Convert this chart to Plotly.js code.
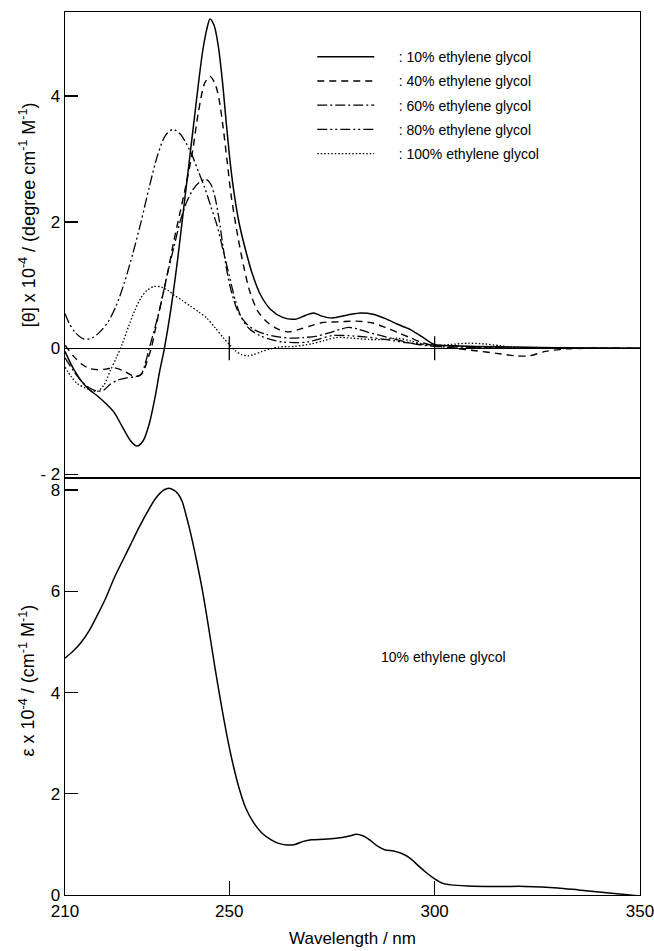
<!DOCTYPE html>
<html>
<head>
<meta charset="utf-8">
<script src="https://cdn.plot.ly/plotly-3.0.1.min.js"></script>
<style>html,body{margin:0;padding:0;background:#fff;}#chart{width:654px;height:951px;}</style>
</head>
<body>
<div id="chart"></div>
<script>
// ---- CD spectra, [theta] x 10^-4 ----
var wl10 = [210,212,214,216,218,220,222,224,226,227.5,229,230.5,232,233,234.2,235.5,236.5,237.5,238.5,239.5,240.5,241.5,242.5,243.5,244.5,245.3,246.3,247.3,248.3,249.3,250.3,251.3,252.5,254,255.5,257.5,260,263,266,268.5,270.5,272.5,275,279,282,285,288,291,294,297,300,305,310,320,330,350];
var cd10 = [-0.05,-0.32,-0.52,-0.66,-0.76,-0.88,-1.02,-1.25,-1.47,-1.55,-1.47,-1.2,-0.75,-0.38,0,0.5,0.95,1.45,2.0,2.55,3.1,3.65,4.2,4.7,5.05,5.22,5.12,4.8,4.25,3.55,2.9,2.4,1.95,1.55,1.2,0.86,0.62,0.49,0.46,0.52,0.56,0.51,0.48,0.53,0.56,0.54,0.47,0.38,0.3,0.18,0.06,0.04,0.03,0.02,0.01,0];

var wl40 = [210,212,214,216,218,220,222,224,226,227.5,229,230,231,232,233.5,235,236.5,238,239.5,241,242.5,244,245.3,246.5,247.5,248.5,249.5,250.5,252,253.5,255,257,259.5,262,264.5,267,270,273,277,281,285,288,291,294,297,300,305,310,315,320,323,327,332,340,350];
var cd40 = [0.05,-0.12,-0.25,-0.32,-0.34,-0.33,-0.31,-0.35,-0.42,-0.45,-0.38,-0.2,0,0.3,0.75,1.2,1.7,2.15,2.6,3.1,3.75,4.2,4.31,4.2,3.95,3.5,2.95,2.4,1.8,1.3,0.9,0.58,0.4,0.3,0.26,0.3,0.36,0.41,0.42,0.43,0.4,0.33,0.25,0.17,0.09,0.04,0,-0.04,-0.08,-0.12,-0.12,-0.05,-0.01,0,0];

var wl60 = [210,212,214,216,218,219.5,221,223,225,227,228.5,229.5,230.5,232,233.5,235,236.5,238,239.5,241,242.5,244.3,245.5,246.5,247.5,248.5,249.5,250.5,252,254,256.5,259,262,265,268,271,274,277,279,281,284,287,290,293,296,300,305,310,320,350];
var cd60 = [-0.15,-0.35,-0.52,-0.63,-0.68,-0.66,-0.57,-0.5,-0.47,-0.45,-0.42,-0.25,0,0.35,0.75,1.2,1.6,2.0,2.3,2.5,2.62,2.68,2.6,2.4,2.05,1.6,1.2,0.9,0.6,0.4,0.28,0.22,0.18,0.16,0.17,0.19,0.24,0.3,0.33,0.31,0.25,0.2,0.15,0.1,0.06,0.03,0.02,0.01,0,0];

var wl80 = [210,211,212.5,214.5,216.5,218.5,220.5,222.5,224.5,226.5,228.5,230.5,232.5,234.5,236.3,238,239.5,241,242.5,244,245.5,247,248.5,250,251.5,253,255,257.5,260,263,266,269,272,275,279,283,287,290,293,296,300,310,320,350];
var cd80 = [0.55,0.4,0.25,0.15,0.16,0.26,0.42,0.68,1.05,1.5,2.0,2.55,3.05,3.38,3.47,3.4,3.25,3.05,2.8,2.55,2.25,1.95,1.55,1.15,0.75,0.48,0.3,0.2,0.14,0.1,0.09,0.1,0.15,0.2,0.2,0.18,0.15,0.12,0.09,0.07,0.05,0.02,0,0];

var wl100 = [210,211.5,213,215,216.5,218,219.5,221,222.5,224,225.5,227,228.5,230,231.7,233.5,235,236.6,238.5,240.5,242.5,244.5,246.5,248.5,250,251.5,253,254.5,256,258,260,262,266,270,273,276,280,284,288,291,294,297,300,304,308,312,316,320,330,350];
var cd100 = [-0.3,-0.45,-0.56,-0.63,-0.67,-0.68,-0.58,-0.36,-0.15,0.08,0.35,0.6,0.8,0.92,0.98,0.97,0.92,0.84,0.76,0.67,0.58,0.48,0.33,0.17,0.06,-0.04,-0.1,-0.12,-0.1,-0.05,-0.01,0.02,0.03,0.07,0.12,0.17,0.16,0.14,0.14,0.16,0.12,0.07,0.04,0.06,0.08,0.07,0.04,0.01,0,0];

// ---- absorption spectrum, epsilon x 10^-4 (10% ethylene glycol) ----
var absWl = [210,212,214,216,218,220,222,224,226,228,230,232,234,235.3,236.5,237.5,238.5,239.5,240.5,242,243.5,245,246.5,248,249.5,251,252.5,254,256,258,260,262,264,266,268,270,273,276,279,281,282.5,284,286,288,290,292,294,296,298,300,302,304,308,315,322,326,330,335,340,345,350];
var absEps = [4.68,4.82,5.0,5.24,5.55,5.88,6.27,6.6,6.93,7.26,7.56,7.83,8.0,8.04,8.0,7.93,7.78,7.5,7.18,6.62,6.0,5.27,4.5,3.78,3.12,2.55,2.08,1.72,1.42,1.22,1.1,1.02,0.99,1.0,1.06,1.09,1.1,1.12,1.16,1.2,1.17,1.1,0.97,0.89,0.87,0.82,0.73,0.58,0.44,0.32,0.23,0.2,0.18,0.17,0.17,0.16,0.14,0.1,0.06,0.02,-0.02];

var seriesNames = [': 10% ethylene glycol', ': 40% ethylene glycol', ': 60% ethylene glycol', ': 80% ethylene glycol', ': 100% ethylene glycol'];
var xTickVals = [210, 250, 300, 350];
var cdTickVals = [-2, 0, 2, 4];
var cdTickText = ['- 2', '0', '2', '4'];
var absTickVals = [0, 2, 4, 6, 8];

var FONT = 'Liberation Sans, Arial, Helvetica, sans-serif';
var PAD = '\u00a0\u00a0\u00a0\u00a0\u00a0';
var dashes = ['solid', '7px,5px', '10px,3px,2px,3px', '10px,3px,2px,3px,2px,3px', '1.5px,2px'];
var widths = [1.5, 1.4, 1.3, 1.3, 1.3];
var cdX = [wl10, wl40, wl60, wl80, wl100];
var cdY = [cd10, cd40, cd60, cd80, cd100];

var traces = [];
for (var i = 0; i < 5; i++) {
  traces.push({
    x: cdX[i], y: cdY[i], xaxis: 'x2', yaxis: 'y2', type: 'scatter', mode: 'lines',
    name: PAD + seriesNames[i], legendgroup: 'g' + i,
    line: {color: '#000', width: widths[i], dash: dashes[i], shape: 'spline', smoothing: 0.8}
  });
}
traces.push({
  x: absWl, y: absEps, xaxis: 'x', yaxis: 'y', type: 'scatter', mode: 'lines',
  showlegend: false, line: {color: '#000', width: 1.5, shape: 'spline', smoothing: 0.8}
});

// cross ticks on the zero line of the CD panel at interior x ticks
var shapes = xTickVals.slice(1, -1).map(function (v) {
  return {type: 'line', xref: 'x2', yref: 'y2', x0: v, x1: v, ysizemode: 'pixel', yanchor: 0, y0: -12, y1: 12,
          line: {color: '#000', width: 1.3}};
});

var axisCommon = {showgrid: false, showline: true, linecolor: '#000', linewidth: 1.3, mirror: true,
                  ticks: 'inside', tickcolor: '#000', tickwidth: 1.3, ticklen: 13,
                  tickfont: {family: FONT, size: 17, color: '#000'}};

var layout = {
  width: 654, height: 951,
  margin: {l: 65, r: 14, t: 12, b: 56},
  paper_bgcolor: '#fff', plot_bgcolor: '#fff',
  showlegend: true,
  legend: {x: 0.43, y: 0.967, xanchor: 'left', yanchor: 'top', bgcolor: 'rgba(0,0,0,0)',
           font: {family: FONT, size: 14, color: '#000'}, tracegroupgap: 3, itemwidth: 57},
  xaxis: Object.assign({}, axisCommon, {domain: [0, 1], anchor: 'y', range: [209.999, 350.001], tickmode: 'array', tickvals: xTickVals,
         ticklen: 14, zeroline: false, ticklabeloverflow: 'allow',
         title: {text: 'Wavelength / nm', font: {family: FONT, size: 17, color: '#000'}, standoff: 12}}),
  yaxis: Object.assign({}, axisCommon, {domain: [0, 0.4711], anchor: 'x', range: [0, 8.22], tickmode: 'array', tickvals: absTickVals,
         zeroline: false}),
  xaxis2: Object.assign({}, axisCommon, {domain: [0, 1], anchor: 'y2', matches: 'x', ticks: '', showticklabels: false,
          zeroline: false}),
  yaxis2: Object.assign({}, axisCommon, {domain: [0.4734, 1], anchor: 'x2', range: [-2.04, 5.33], tickmode: 'array',
          tickvals: cdTickVals, ticktext: cdTickText, zeroline: true, zerolinecolor: '#000', zerolinewidth: 1.3}),
  shapes: shapes,
  annotations: [
    {xref: 'paper', yref: 'paper', x: -0.066, y: 0.77, xanchor: 'center', yanchor: 'middle', textangle: -90, showarrow: false,
     text: '[\u03b8] x 10<sup>-4</sup> / (degree cm<sup>-1</sup> M<sup>-1</sup>)', font: {family: FONT, size: 18, color: '#000'}},
    {xref: 'paper', yref: 'paper', x: -0.066, y: 0.243, xanchor: 'center', yanchor: 'middle', textangle: -90, showarrow: false,
     text: '\u03b5 x 10<sup>-4</sup> / (cm<sup>-1</sup> M<sup>-1</sup>)', font: {family: FONT, size: 18, color: '#000'}},
    {xref: 'paper', yref: 'paper', x: 0.659, y: 0.27, xanchor: 'center', yanchor: 'middle', showarrow: false,
     text: '10% ethylene glycol', font: {family: FONT, size: 14, color: '#000'}}
  ]
};

Plotly.newPlot('chart', traces, layout, {displayModeBar: false, staticPlot: true});
</script>
</body>
</html>
